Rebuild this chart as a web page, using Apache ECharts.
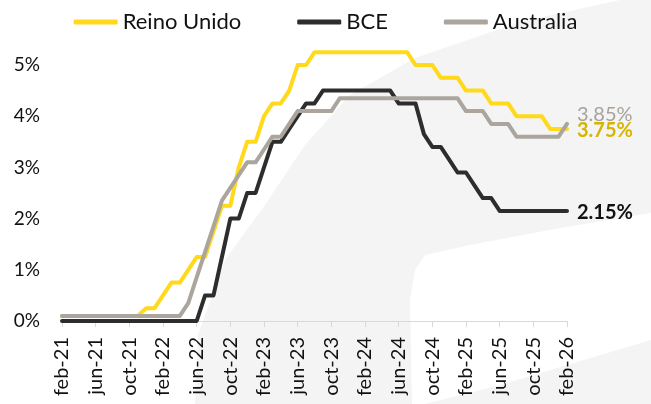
<!DOCTYPE html>
<html>
<head>
<meta charset="utf-8">
<script src="https://cdn.jsdelivr.net/npm/echarts@6/dist/echarts.min.js"></script>
<style>
html,body{margin:0;padding:0;background:#fff;}
#chart{width:651px;height:404px;}
</style>
</head>
<body>
<div id="chart"></div>
<script>
// Monthly categories feb-21 .. feb-26
const categories = [
 'feb-21','mar-21','abr-21','may-21','jun-21','jul-21','ago-21','sep-21','oct-21','nov-21','dic-21',
 'ene-22','feb-22','mar-22','abr-22','may-22','jun-22','jul-22','ago-22','sep-22','oct-22','nov-22','dic-22',
 'ene-23','feb-23','mar-23','abr-23','may-23','jun-23','jul-23','ago-23','sep-23','oct-23','nov-23','dic-23',
 'ene-24','feb-24','mar-24','abr-24','may-24','jun-24','jul-24','ago-24','sep-24','oct-24','nov-24','dic-24',
 'ene-25','feb-25','mar-25','abr-25','may-25','jun-25','jul-25','ago-25','sep-25','oct-25','nov-25','dic-25',
 'ene-26','feb-26'
];

const reinoUnido = [
 0.1,0.1,0.1,0.1,0.1,0.1,0.1,0.1,0.1,0.1,0.25,
 0.25,0.5,0.75,0.75,1.0,1.25,1.25,1.75,2.25,2.25,3.0,3.5,
 3.5,4.0,4.25,4.25,4.5,5.0,5.0,5.25,5.25,5.25,5.25,5.25,
 5.25,5.25,5.25,5.25,5.25,5.25,5.25,5.0,5.0,5.0,4.75,4.75,
 4.75,4.5,4.5,4.5,4.25,4.25,4.25,4.0,4.0,4.0,4.0,3.75,
 3.75,3.75
];

const bce = [
 0,0,0,0,0,0,0,0,0,0,0,
 0,0,0,0,0,0,0.5,0.5,1.25,2.0,2.0,2.5,
 2.5,3.0,3.5,3.5,3.75,4.0,4.25,4.25,4.5,4.5,4.5,4.5,
 4.5,4.5,4.5,4.5,4.5,4.25,4.25,4.25,3.65,3.4,3.4,3.15,
 2.9,2.9,2.65,2.4,2.4,2.15,2.15,2.15,2.15,2.15,2.15,2.15,
 2.15,2.15
];

const australia = [
 0.1,0.1,0.1,0.1,0.1,0.1,0.1,0.1,0.1,0.1,0.1,
 0.1,0.1,0.1,0.1,0.35,0.85,1.35,1.85,2.35,2.6,2.85,3.1,
 3.1,3.35,3.6,3.6,3.85,4.1,4.1,4.1,4.1,4.1,4.35,4.35,
 4.35,4.35,4.35,4.35,4.35,4.35,4.35,4.35,4.35,4.35,4.35,4.35,
 4.35,4.1,4.1,4.1,3.85,3.85,3.85,3.6,3.6,3.6,3.6,3.6,
 3.6,3.85
];

const yTicks = [0,1,2,3,4,5];

const FONT = 'Lato';
const chart = echarts.init(document.getElementById('chart'), null, {renderer:'canvas'});

const option = {
  backgroundColor: '#ffffff',
  animation: false,
  textStyle: {fontFamily: FONT},
  graphic: [
    {
      type: 'polygon', z: -10, silent: true,
      shape: {points: [[195,404],[198,335],[225,260],[265,205],[305,145],[350,95],[415,58],[520,22],[620,0],[651,0],[651,213],[560,228],[470,245],[425,255],[415,270],[410,300],[412,404]]},
      style: {fill: '#f4f4f4'}
    },
    {
      type: 'polygon', z: -10, silent: true,
      shape: {points: [[425,404],[500,385],[651,340],[651,404]]},
      style: {fill: '#f4f4f4'}
    }
  ],
  legend: {
    top: 6,
    left: 'center',
    icon: 'roundRect',
    itemWidth: 44,
    itemHeight: 5,
    itemGap: 56,
    textStyle: {fontFamily: FONT, fontSize: 22, color: '#111'},
    data: ['Reino Unido','BCE','Australia']
  },
  grid: {left: 62, right: 84, top: 65, bottom: 83, containLabel: false},
  xAxis: {
    type: 'category',
    data: categories,
    boundaryGap: false,
    axisLine: {lineStyle: {color: '#d9d9d9', width: 1}},
    axisTick: {show: true, interval: 3, length: 6, lineStyle: {color: '#d9d9d9'}},
    axisLabel: {interval: 3, rotate: 90, margin: 16, fontFamily: FONT, fontSize: 20, color: '#111'},
    splitLine: {show: false}
  },
  yAxis: {
    type: 'value',
    min: yTicks[0],
    max: yTicks[yTicks.length-1],
    interval: 1,
    axisLine: {show: false},
    axisTick: {show: false},
    splitLine: {show: false},
    axisLabel: {margin: 22, fontFamily: FONT, fontSize: 19, color: '#111', formatter: v => v + '%'}
  },
  series: [
    {
      name: 'Reino Unido', type: 'line', data: reinoUnido, showSymbol: false, symbol: 'none', clip: false,
      color: '#FFD91A',
      lineStyle: {width: 4, color: '#FFD91A', cap: 'round', join: 'round'},
      endLabel: {show: true, formatter: p => p.value.toFixed(2) + '%', color: '#D8B400', fontFamily: FONT, fontSize: 20, fontWeight: 'bold', distance: 10, offset: [0, 2]}
    },
    {
      name: 'BCE', type: 'line', data: bce, showSymbol: false, symbol: 'none', clip: false,
      color: '#2d2d2d',
      lineStyle: {width: 4, color: '#2d2d2d', cap: 'round', join: 'round'},
      endLabel: {show: true, formatter: p => p.value.toFixed(2) + '%', color: '#111', fontFamily: FONT, fontSize: 20, fontWeight: 'bold', distance: 10, offset: [0, 2]}
    },
    {
      name: 'Australia', type: 'line', data: australia, showSymbol: false, symbol: 'none', clip: false,
      color: '#ABA59E',
      lineStyle: {width: 4, color: '#ABA59E', cap: 'round', join: 'round'},
      endLabel: {show: true, formatter: p => p.value.toFixed(2) + '%', color: '#A8A29B', fontFamily: FONT, fontSize: 20, distance: 10, offset: [0, -9]}
    }
  ]
};
chart.setOption(option);
</script>
</body>
</html>
